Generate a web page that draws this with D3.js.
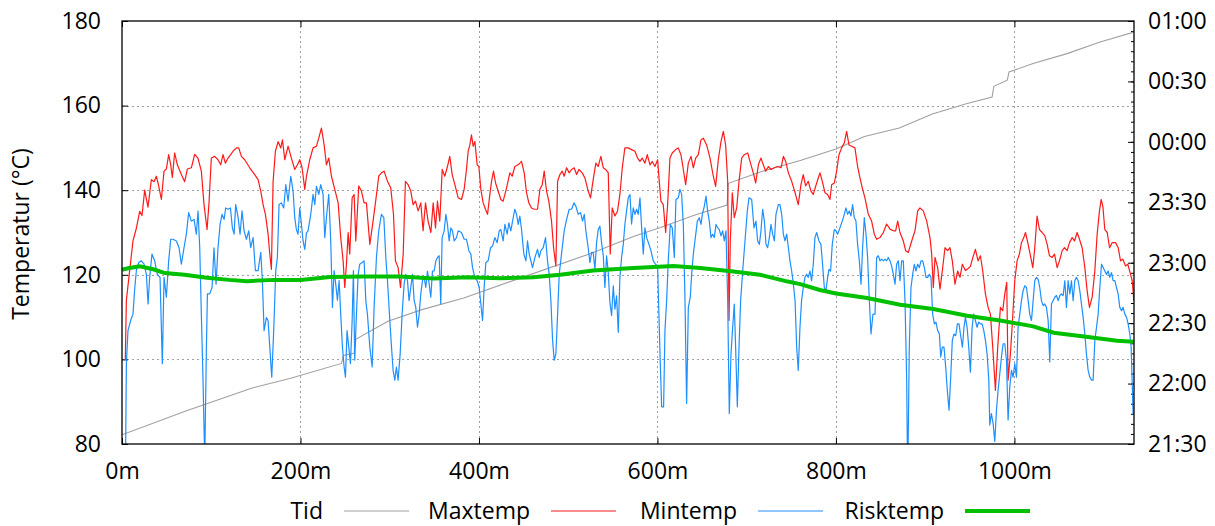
<!DOCTYPE html>
<html>
<head>
<meta charset="utf-8">
<script src="https://cdn.jsdelivr.net/npm/d3@7"></script>
<style>
  body { margin: 0; background: #fff; }
  text { font-family: "Open Sans", "Noto Sans", sans-serif; fill: #000; }
</style>
</head>
<body>
<div id="chart"></div>
<script>
// tick labels
const tempTicks = [80, 100, 120, 140, 160, 180];
const distTicks = [0, 200, 400, 600, 800, 1000];
const timeTicks = ["21:30", "22:00", "22:30", "23:00", "23:30", "00:00", "00:30", "01:00"];
const legendLabels = ["Tid", "Maxtemp", "Mintemp", "Risktemp"];
const legendColors = ["#a0a0a0", "#ff1a1a", "#1e8fff", "#00c000"];

// Tid: [distance m, clock time]
const tid = [[0,"21:34:36"],[70,"21:46:06"],[145,"21:57:42"],[188,"22:02:30"],[246,"22:10:00"],[248,"22:14:00"],
  [260,"22:15:00"],[262,"22:22:00"],[298,"22:30:54"],[336,"22:36:42"],[383,"22:42:30"],[451,"22:53:06"],
  [526,"23:04:42"],[573,"23:13:00"],[601,"23:17:06"],[642,"23:23:42"],[678,"23:28:36"],[679.5,"23:39:24"],
  [716,"23:45:12"],[761,"23:50:54"],[800,"23:56:30"],[832,"00:02:42"],[871,"00:06:54"],[908,"00:13:48"],
  [947,"00:19:00"],[975,"00:22:18"],[977,"00:27:36"],[992,"00:30:36"],[994,"00:34:42"],[1021,"00:38:54"],
  [1059,"00:43:48"],[1096,"00:49:36"],[1134,"00:54:30"]];

// Maxtemp: [distance m, °C]
const maxtemp = [[3.7,100],[4.9,114],[8.6,121],[12.3,128],[16.1,131],[19.8,135],[22.4,134],[25.4,140],[29.1,136],[32.9,142.5],
  [35.9,142],[38.5,143.3],[41.1,141],[44.1,137.8],[47.1,144.5],[49.7,145],[52.3,148.4],[54.6,146],[56.4,143],[59,148.8],
  [62,146],[66.5,143.7],[70.2,142],[73.2,145],[77.7,145.3],[81.5,148.5],[85.2,147.5],[88.9,144.5],[91.9,136.6],[95.3,130.7],
  [97.5,137],[100.1,147.6],[103.9,148],[107.6,147.2],[110.6,146],[113.2,148.4],[115.8,146.4],[118.8,147.6],[121.8,148.4],
  [124.4,149.2],[128.2,150],[130.8,150],[133.8,148],[137.5,147.2],[143.1,145.3],[148.7,143.7],[152.5,142.5],[155.5,139.8],
  [158.1,136.6],[160.7,134.3],[163.7,129.6],[165.6,124.9],[167.4,121.3],[169.3,142],[171.9,149.2],[174.9,151.5],[177.9,150],
  [179.8,151.9],[182.4,147.2],[186.1,150.4],[189.8,147.6],[193.6,144.9],[196.6,146],[199.2,147.2],[201.8,145.3],[204.8,140.2],
  [206.7,143.3],[210.4,147.2],[214.1,150],[217.9,150.4],[220.5,152.3],[223.5,154.7],[226.5,150.7],[229.1,146],[231.7,147.6],
  [234.7,143.3],[238.4,140.2],[242.2,137],[245.1,128.8],[247.8,123.3],[249.6,117],[251.5,122.5],[253.4,130],[255.2,124.9],
  [257.9,138.2],[260.1,139],[262,128],[265.3,141],[268.3,139.8],[271.3,137],[273.9,137],[277.7,127.2],[280.3,131.1],[284,137],
  [287.7,143.3],[290.7,144.1],[293.7,144.5],[297.5,142.1],[301.2,140.5],[304.2,134.3],[306.4,123.3],[309.4,121.7],[312.1,117],
  [315.1,124.9],[317.6,142.1],[320.6,141.3],[323.6,139.8],[326.2,136.6],[328.9,137.4],[331.8,135.1],[334.8,137],[337.4,130.4],
  [340.1,137],[343,132.7],[346.1,130],[348.7,137],[351.3,131.1],[353.5,137.4],[356.1,132.7],[358.8,144.9],[361.7,143.3],
  [364.7,145.6],[367.3,148],[370,143.7],[373,141.3],[376.7,138.2],[380.4,137.8],[383.4,140.2],[386,144.9],[387.9,149.2],
  [389.8,150.7],[391.6,153.1],[393.5,150.4],[395.4,151.5],[398,146],[399.9,145.6],[402.1,140.2],[404.7,137],[407.3,135.5],
  [409.6,134.3],[412.2,139],[414.1,142.1],[416.3,144.5],[418.6,141.7],[421.5,139.8],[424.5,137.8],[427.1,137.4],[430.9,140.5],
  [434.6,144.1],[437.2,143.3],[440.2,145.6],[443.9,146],[447.7,146.8],[450.7,144.1],[453.3,139.4],[455.9,137],[458.9,135.8],
  [461.9,135.5],[465.6,135.5],[468.3,140.2],[470.9,141.3],[473.1,144.5],[475.7,139.8],[478.3,137.4],[481.3,132.7],[483.6,126.4],
  [486.2,122.1],[488.1,142.1],[490.7,143.7],[493.3,144.5],[495.5,143.3],[498.2,145.3],[501.1,144.1],[503.8,144.9],[506.7,145.3],
  [509.4,143.7],[512,144.9],[515.7,144.1],[518.7,142.9],[522.4,139.8],[525,138.2],[528,142.5],[531,146.4],[533.6,145.6],
  [536.6,148],[539.3,145.3],[541.9,144.9],[544.9,144.1],[547.1,124.9],[549.3,135.8],[552.3,133.9],[555.3,135.1],[557.9,139],
  [560.6,145.3],[563.5,150],[567.3,150],[571,149.6],[574.8,149.2],[577.8,147.6],[580.4,146.8],[582.9,147.6],[586,146.4],
  [588.6,148.4],[591.6,146],[594.2,146.8],[597.2,145.6],[600.2,147.2],[602,142.1],[603.9,137.4],[606.5,136.6],[609.2,130],
  [611.4,136.6],[614,147.6],[616.6,148.8],[620.4,149.6],[623.3,150],[626.3,148.4],[629,144.9],[631.6,141.3],[634.6,146.4],
  [637.6,148],[640.2,145.3],[642.8,147.6],[645.8,148.4],[648.8,151.9],[651.4,152.3],[655.1,150.7],[658.9,147.6],[662.6,143.3],
  [665.2,140.9],[668.2,147.2],[671.2,151.5],[673.8,153.9],[676.4,150.7],[678.7,142.1],[680.2,109.2],[681.6,128],[683.9,139.4],
  [686.1,133.5],[688.8,135.8],[691.4,142.1],[694.4,147.6],[697.3,148.4],[701.1,148.8],[704.8,146],[707.4,144.1],[710.1,141.7],
  [713.1,146],[716,147.6],[718.6,146],[721.3,144.5],[724.3,145.6],[727.3,144.9],[731,145.3],[734.7,145.6],[738.5,145.3],
  [741.1,148],[743.7,146.8],[746.7,144.1],[750.4,142.1],[754.2,139.4],[757.8,136.6],[760.8,141.3],[763.4,143.7],[766,141],
  [769,142.1],[772,139.8],[774.6,139],[778.4,141.7],[782.1,144.1],[784.7,142.1],[787.7,139.4],[790.7,139],[793.3,137.8],
  [795.2,141.3],[798.2,141.7],[800.8,144.5],[803.4,148.4],[806.4,150],[809.4,151.2],[812,153.9],[814.6,150.7],[817.6,150.4],
  [821.3,150],[824.3,145.6],[826.9,142.9],[829.6,140.5],[832.5,138.2],[836.3,134.3],[840,132.7],[843,129.6],[845.6,128.4],
  [849.4,128.8],[853.1,130],[856.8,132],[860.6,130.8],[864.3,130.4],[866.9,130.4],[869.2,132.7],[871.8,130],[875.5,128],
  [878.1,125.7],[881.1,125.3],[884.9,128],[888.6,130.4],[891.6,135.1],[894.2,135.8],[897.9,135.1],[901.7,132.7],[905.4,128.8],
  [907.3,124.9],[909.1,117],[911,124.1],[914,121.7],[916.6,116.6],[919.2,120.9],[922.2,126.4],[925.2,125.7],[927.8,126.4],
  [930.4,123.3],[933.4,117.8],[936.4,120.9],[939,119.4],[941.7,122.5],[945.1,121],[948.1,121.5],[950.7,122],[953.3,124],
  [956.3,126],[959.3,123.3],[961.9,124.5],[964.5,120.9],[967.5,115.5],[970.5,112.3],[973.1,110.7],[975.7,102.9],[978.7,92.7],
  [981.3,102.9],[984.3,112.3],[986.9,111.5],[989.2,115.5],[991.4,118.2],[992.9,95.1],[995.5,101.3],[997.4,107.6],[1000.4,118.6],
  [1003,123.3],[1005.6,124.9],[1007.9,127.6],[1010.5,128.8],[1012.4,130],[1015.4,127.2],[1018,124.5],[1020.6,121.7],
  [1022.8,126.4],[1025.4,133.9],[1028.1,130.7],[1031.1,130],[1034.1,129.2],[1036.7,127.2],[1039.3,124.5],[1042.3,124.1],
  [1044.9,124.9],[1047.9,121.7],[1050.5,123.3],[1053.5,125.7],[1056.1,126.4],[1059.1,125.7],[1061.7,127.6],[1064.7,128.8],
  [1067.3,128],[1070.3,130],[1072.9,128.4],[1075.9,126.4],[1078.9,121.7],[1081.5,116.2],[1084.1,112.3],[1087.1,114.7],
  [1090.1,120.9],[1092.7,129.6],[1095.3,135.1],[1097.2,137.8],[1099.1,136.2],[1101.3,130.7],[1104,130],[1106.6,126.4],
  [1109.5,127.6],[1113.3,127.6],[1116.3,126.4],[1118.9,123.3],[1121.5,123.7],[1124.5,122.1],[1127.1,122.5],[1130.1,120.1],
  [1132,118.6],[1133.8,113.9]];

// Mintemp: [distance m, °C]
const mintemp = [[3.7,70],[4.9,99],[6.7,106.8],[9.7,109.2],[12.3,110.7],[14.2,116.6],[16.1,121],[18.7,122.9],[21.7,123.3],
  [24.7,122.5],[27.3,120.1],[29.2,113.1],[31,119.4],[33.6,124.9],[36.6,123.3],[39.6,120.1],[42.6,119.4],[45.2,99],[47.1,119.4],
  [49.7,114.7],[52.3,123.3],[54.6,128.4],[57.2,128.4],[60.9,128],[63.9,126.4],[66.5,122.5],[69.5,126.4],[72.1,129.6],
  [74.7,134.7],[77.7,132.7],[80.7,133.1],[83.3,129.6],[85.2,135.1],[87.1,126.4],[88.9,110.7],[90.8,95.1],[92.7,76],
  [94.5,101.7],[95.7,115.5],[98.3,115.5],[100.9,117],[103.1,126.4],[105.4,117.8],[107.6,126.4],[109.9,131.9],[112.1,134.3],
  [114.4,133.1],[116.2,135.8],[118.8,135.5],[121.5,135.8],[123.7,131.1],[125.6,129.6],[127.4,136.6],[130.1,133.5],[132.3,129.6],
  [134.5,135.1],[136.8,130.4],[139.4,128.4],[142,130.4],[144.2,126.4],[146.9,128.8],[149.5,121],[152.5,121],[155.5,125.3],
  [157.3,118.6],[159.2,106.8],[161.8,109.9],[163.7,109.2],[165.6,102.9],[167.8,95.8],[170,106.8],[172.3,121],[174.1,124.1],
  [176,136.6],[178.6,137],[181.2,135.8],[183.5,141.3],[186.1,137.4],[189.1,143.3],[191.7,139.8],[193.6,133.5],[195.4,130.7],
  [197.3,129.6],[199.2,135.8],[201.1,131.9],[202.9,128],[204.8,126],[206.7,129.9],[208.5,130.4],[211.5,134.3],[214.1,139],
  [216,136.6],[217.9,140.9],[220.5,139],[222.7,141.3],[225.3,139],[227.2,128.8],[229.4,134.3],[231.7,139],[233.9,128],
  [235.8,112.3],[237.7,121],[239.5,117.8],[241.4,114],[243.3,118.6],[245.1,110.7],[247,102.9],[248.9,98.2],[250.4,95.8],
  [252.2,106.8],[254.1,102.9],[256,99],[257.9,109.2],[259.3,121],[260.8,99.8],[262.7,110.7],[264.6,120.1],[266.4,122.5],
  [269.1,122.9],[271.3,123.3],[273.2,113.9],[275,110.7],[277.7,102.9],[280.3,98.2],[282.5,112.3],[285.1,124.1],[287.7,130.4],
  [290.7,134.3],[293.4,133.5],[295.6,124.1],[297.5,118.6],[300.1,109.2],[302,102.9],[303.8,97.4],[305.7,95.1],[307.5,98.2],
  [309.4,95.1],[311.7,101.3],[313.9,110.7],[316.1,117.8],[318,120.1],[319.9,118.6],[321.7,113.9],[323.6,117],[325.5,120.1],
  [327.4,113.9],[329.2,112.3],[331.1,107.6],[333,110.7],[334.8,115.5],[336.7,118.6],[338.6,119.4],[340.4,117],[342.3,120.9],
  [344.2,117.8],[346,114.7],[347.9,120.9],[349.8,120.9],[351.7,123.3],[353.5,124.1],[355.4,124.5],[357.2,113.1],[358.7,128.8],
  [361,130.4],[362.9,134.3],[364.7,131.9],[366.6,128],[368.5,131.1],[370.3,130.4],[372.2,128],[374.8,128.8],[376.7,130.4],
  [380.4,130],[383.4,128.4],[386,128.4],[388.7,125.7],[390.9,124.9],[392.8,121.7],[395.4,119.4],[398,118.6],[400.2,117],
  [402.1,113.1],[404,109.2],[405.8,117],[407.7,122.9],[410.3,123.3],[413,126.4],[415.2,126.8],[417.8,128.8],[420.4,127.6],
  [422.7,130.4],[424.5,130.7],[427.1,128],[429,131.9],[431.6,129.6],[433.5,132.3],[435.7,130.4],[438.4,133.5],[440.2,135.5],
  [442.1,134.3],[444,131.9],[445.8,133.9],[447.7,130.7],[450.3,124.9],[452.6,123.3],[454.4,128],[456.3,124.9],[458.2,123.3],
  [460,121.7],[462.7,124.1],[465.6,126],[467.5,124.1],[469.4,125.7],[472,126.4],[474.6,128.8],[476.8,123.3],[478.7,120.1],
  [480.6,113.9],[482.5,104.5],[484.3,99.8],[486.2,101.3],[488.1,110.7],[489.9,120.1],[492.5,124.9],[495.5,130.4],[498.2,133.1],
  [501.1,135.5],[503.8,135.5],[506.4,137],[508.6,136.2],[511.2,134.3],[513.8,134.7],[516.1,132.7],[518,134.3],[519.8,130.4],
  [522.4,126.4],[524.3,122.9],[526.2,125.3],[528,125.3],[529.9,121.3],[531.8,127.6],[533.6,130.7],[535.5,131.5],[537.4,127.6],
  [539.3,124.5],[541.1,117],[543,124.5],[544.9,120.5],[546.7,113.5],[548.6,110.4],[550.5,117.4],[552.3,111.9],[554.2,115],
  [556.1,106.4],[557.9,119.4],[559.8,124.1],[561.7,127.2],[563.5,131.9],[565.4,135.1],[567.3,138.2],[569.2,139],[571,132],
  [572.9,135.8],[574.8,134.3],[576.6,135.5],[578.5,134.3],[580.4,138.2],[582.3,131.1],[584.1,124.9],[586,131.1],[587.9,128.8],
  [590.5,127.2],[592.7,125.7],[595.3,123.3],[597.9,122.5],[600.2,122.1],[601.7,110],[603.2,99],[604.7,88.8],[606.9,88.8],
  [608.4,106.8],[610.3,113.9],[612.1,123.3],[614.4,131.9],[616.6,131.1],[618.9,124.1],[620.7,137.8],[623.4,138.2],[625.2,140.2],
  [627.1,139],[629,131.9],[630.8,114.7],[632.7,89.6],[634.6,112.3],[636.8,114.7],[638.3,120.1],[640.2,124.9],[642,128],
  [644.7,132.7],[646.9,133.5],[648.8,131.9],[650.3,134.3],[652.5,136.2],[654.4,138.6],[656.2,135.1],[658.1,132.7],[660,128.8],
  [661.8,129.6],[663.7,128.8],[665.6,131.9],[667.5,131.1],[669.3,130.7],[671.2,129.2],[673.1,130.4],[674.9,128],[676.8,130.4],
  [678.7,113.9],[680.5,87.2],[682.4,101.3],[684.3,107.6],[686.1,113.1],[687.6,102.9],[689.5,88.8],[691.4,102.9],[693.2,113.9],
  [695.5,120.9],[698.1,128],[700.7,135.1],[702.6,138.2],[705.6,137.8],[708.2,131.1],[710.4,132.7],[712.3,128],[714.2,127.2],
  [716,130.4],[717.9,135.5],[719.8,132.7],[721.6,127.2],[723.5,126.4],[725.4,128.8],[727.2,131.9],[729.1,129.6],[731,128],
  [732.8,134.3],[735.5,136.6],[737.3,136.6],[739.2,134.3],[741.1,129.6],[742.9,128],[744.8,129.6],[746.7,126.4],[748.5,123.3],
  [750.4,120.9],[752.3,117.8],[754.2,113.9],[756,102.9],[757.8,97.4],[759.7,107.6],[761.5,113.9],[763.4,117],[765.3,119.4],
  [767.1,120.1],[769,119.4],[770.9,120.9],[772.7,118.6],[774.6,122.5],[776.5,128.8],[778.4,130],[781,128],[783.2,127.2],
  [784.7,123.3],[787,117],[788.8,116.2],[790.7,119.4],[792.2,121.3],[794,120.9],[795.9,127.2],[798.2,130.7],[800,130.4],
  [801.9,129.6],[804.5,131.1],[807.1,132.7],[809.4,134.3],[811.2,135.8],[813.1,134.3],[815,135.1],[816.8,133.9],[818.7,136.6],
  [820.6,133.5],[822.4,132.7],[824.3,127.2],[826.2,123.3],[828.1,117.8],[829.9,126.4],[831.8,133.5],[833.7,129.6],[835.5,124.1],
  [837.4,114],[839.3,106],[841.5,110.7],[843.8,110.7],[845.6,124.1],[847.5,124.5],[849.4,123.3],[851.2,123.7],[853.1,123.3],
  [855,123.7],[856.8,123.3],[858.7,124.1],[860.6,123.3],[862.4,122.1],[864.3,120.1],[866.2,117.8],[868,122.5],[869.9,123.3],
  [871.8,118.6],[873.6,123.3],[875.5,123.3],[877.4,113.9],[879.3,95.1],[880.4,70],[882.2,102.9],[884.1,117],[886,120.1],
  [887.8,122.5],[889.7,120.9],[891.6,122.5],[893.5,121.7],[895.3,123.3],[897.2,123.3],[899.1,121.7],[900.9,119.4],[902.8,119.4],
  [904.7,120.1],[906.5,119.4],[908.4,110.7],[910.3,108.4],[912.1,108.8],[914,106.8],[915.9,106],[917.4,100.6],[919.2,102.9],
  [921.1,102.9],[923,98.2],[924.8,92.7],[926.7,88],[928.6,95.8],[930.4,104.5],[932.3,106],[934.2,105.6],[936.1,108.4],
  [937.9,108.4],[939.8,105.6],[941.7,102.9],[943.5,107.6],[945.1,110],[947,107.6],[948.8,102.9],[950.7,97],[952.6,107.6],
  [954.4,110.7],[956.3,109.2],[958.2,107.6],[960,108.8],[961.9,108.4],[963.8,108.4],[965.7,106.8],[967.5,104.5],[969.4,101.3],
  [971.3,95.1],[972.4,84.5],[974.2,87.2],[976.1,84.9],[978,80.6],[979.9,88],[981.7,92.7],[983.6,96.6],[985.5,100.6],
  [987.3,103.7],[989.2,103.7],[991.1,99.8],[992.9,85.7],[994.8,93.5],[996.7,97.4],[998.5,95.8],[1000.4,99],[1002.3,95.8],
  [1004.1,107.6],[1006,110.7],[1007.9,113.9],[1009.7,116.2],[1011.6,117.4],[1013.5,117],[1015.4,113.9],[1017.2,110.7],
  [1019.1,109.2],[1021,113.9],[1022.8,118.6],[1024.7,119.4],[1026.6,118.9],[1028.4,117],[1030.3,113.9],[1032.2,112.7],
  [1034,113.1],[1035.9,112.3],[1037.8,109.2],[1039.6,99.4],[1041.5,113.1],[1043.4,113.9],[1045.2,114.7],[1047.1,115.1],
  [1049,113.9],[1050.9,115.1],[1052.7,115.5],[1054.6,115.1],[1056.5,118.6],[1058.3,112.3],[1060.2,118.6],[1062.1,115.5],
  [1063.9,118.6],[1065.8,113.9],[1067.7,118.6],[1069.5,119.4],[1071.4,118.6],[1073.3,116.2],[1075.1,113.1],[1077,110],
  [1078.9,106],[1080.7,101.3],[1082.6,97.4],[1084.5,95.8],[1086.4,95.1],[1088.2,95.1],[1090.1,104.5],[1092,107.6],
  [1093.8,110.7],[1095.7,117],[1097.6,122.5],[1099.4,121.7],[1101.3,120.9],[1103.2,120.1],[1105,120.9],[1106.9,119.4],
  [1108.8,120.5],[1110.6,118.6],[1112.5,118.6],[1114.4,117],[1116.2,115.5],[1118.1,112.3],[1120,111.5],[1121.8,112.3],
  [1123.7,110.7],[1125.6,110],[1127.4,108.4],[1129.3,106],[1130.8,102.9],[1131.9,95.1],[1133,87]];

// Risktemp: [distance m, °C]
const risktemp = [[0,121.2],[8,121.6],[20,122],[35,121.3],[48,120.4],[70,120],[95,119.3],[120,118.8],[140,118.5],
  [170,118.8],[200,118.8],[233,119.5],[270,119.6],[312,119.6],[349,119.1],[387,119.4],[424,119.2],[461,119.4],[491,120],
  [528,121],[573,121.6],[618,122.1],[648,121.6],[685,120.8],[715,120],[746,118.4],[760,117.8],[782,116.4],[800,115.6],
  [835,114.5],[872,112.9],[909,111.9],[947,110.3],[984,109.2],[1021,107.8],[1044,106.3],[1078,105.4],[1115,104.4],[1134,104.2]];

const width = 1215, height = 526;
const plotLeft = 122, plotRight = 1134, plotTop = 21, plotBottom = 444;

const parseClock = d3.timeParse("%H:%M:%S");
const toDate = s => {
  const d = parseClock(s.length === 5 ? s + ":00" : s);
  return d.getHours() < 12 ? d3.timeDay.offset(d, 1) : d;
};

const x = d3.scaleLinear().domain([0, 1134]).range([plotLeft, plotRight]);
const y = d3.scaleLinear().domain([80, 180]).range([plotBottom, plotTop]);
const y2 = d3.scaleTime()
  .domain([toDate(timeTicks[0]), toDate(timeTicks[timeTicks.length - 1])])
  .range([plotBottom, plotTop]);

const svg = d3.select("#chart").append("svg")
  .attr("width", width).attr("height", height)
  .style("background", "#fff");

// grid
const grid = svg.append("g")
  .attr("stroke", "#a0a0a0").attr("stroke-width", 1).attr("stroke-dasharray", "2,3");
grid.selectAll("line.h").data(tempTicks.slice(1, -1)).enter().append("line")
  .attr("x1", plotLeft).attr("x2", plotRight)
  .attr("y1", d => Math.round(y(d)) + 0.5).attr("y2", d => Math.round(y(d)) + 0.5);
grid.selectAll("line.v").data(distTicks.slice(1)).enter().append("line")
  .attr("y1", plotTop).attr("y2", plotBottom)
  .attr("x1", d => Math.round(x(d)) + 0.5).attr("x2", d => Math.round(x(d)) + 0.5);

// axes
const fontSize = "23px";
const styleAxis = g => {
  g.select(".domain").remove();
  g.selectAll("line").attr("stroke", "#000");
  g.selectAll("text").style("font-size", fontSize).attr("fill", "#000")
    .style("font-family", '"Open Sans", "Noto Sans", sans-serif');
};

svg.append("g").attr("transform", `translate(${plotLeft},0)`)
  .call(d3.axisLeft(y).tickValues(tempTicks).tickSize(-6).tickPadding(21))
  .call(styleAxis);

svg.append("g").attr("transform", `translate(0,${plotBottom})`)
  .call(d3.axisBottom(x).tickValues(distTicks).tickFormat(d => d + "m").tickSize(-6).tickPadding(19))
  .call(styleAxis);

svg.append("g").attr("transform", `translate(0,${plotTop})`)
  .call(d3.axisTop(x).tickValues(distTicks).tickFormat("").tickSize(-6))
  .call(styleAxis);

svg.append("g").attr("transform", `translate(${plotRight},0)`)
  .call(d3.axisRight(y2).ticks(d3.timeMinute.every(5)).tickFormat("").tickSize(-3))
  .call(styleAxis);

svg.append("g").attr("transform", `translate(${plotRight},0)`)
  .call(d3.axisRight(y2).tickValues(timeTicks.map(toDate))
    .tickFormat(d3.timeFormat("%H:%M")).tickSize(-6).tickPadding(14))
  .call(styleAxis);

// y title
svg.append("text")
  .attr("transform", "translate(29,234) rotate(-90)")
  .attr("text-anchor", "middle")
  .style("font-size", fontSize)
  .text("Temperatur (°C)");

// lines
svg.append("clipPath").attr("id", "plot-clip")
  .append("rect").attr("x", plotLeft).attr("y", plotTop)
  .attr("width", plotRight - plotLeft).attr("height", plotBottom - plotTop);

const plot = svg.append("g").attr("clip-path", "url(#plot-clip)");

const tempLine = d3.line().x(d => x(d[0])).y(d => y(d[1]));
const tidLine = d3.line().x(d => x(d[0])).y(d => y2(toDate(d[1])));

plot.append("path").datum(tid)
  .attr("fill", "none").attr("stroke", legendColors[0]).attr("stroke-width", 1.1)
  .attr("d", tidLine);
plot.append("path").datum(maxtemp)
  .attr("fill", "none").attr("stroke", legendColors[1]).attr("stroke-width", 1.2)
  .attr("stroke-linejoin", "round").attr("d", tempLine);
plot.append("path").datum(mintemp)
  .attr("fill", "none").attr("stroke", legendColors[2]).attr("stroke-width", 1.2)
  .attr("stroke-linejoin", "round").attr("d", tempLine);
svg.append("path").datum(risktemp)
  .attr("fill", "none").attr("stroke", legendColors[3]).attr("stroke-width", 4)
  .attr("d", tempLine);

// border
svg.append("rect")
  .attr("x", plotLeft).attr("y", plotTop).attr("width", plotRight - plotLeft).attr("height", plotBottom - plotTop)
  .attr("fill", "none").attr("stroke", "#000").attr("stroke-width", 1.3);

// legend
const legend = svg.append("g").attr("transform", "translate(0,511)");
const entry = legend.selectAll("g").data(legendLabels).enter().append("g")
  .attr("transform", (d, i) => `translate(${323 + i * 207},0)`);
entry.append("text")
  .attr("text-anchor", "end").attr("dy", "0.35em")
  .style("font-size", fontSize)
  .text(d => d);
entry.append("line")
  .attr("x1", 21).attr("x2", 86).attr("y1", 0).attr("y2", 0)
  .attr("stroke", (d, i) => legendColors[i])
  .attr("stroke-width", (d, i) => i === 3 ? 4 : 1.2);
</script>
</body>
</html>
